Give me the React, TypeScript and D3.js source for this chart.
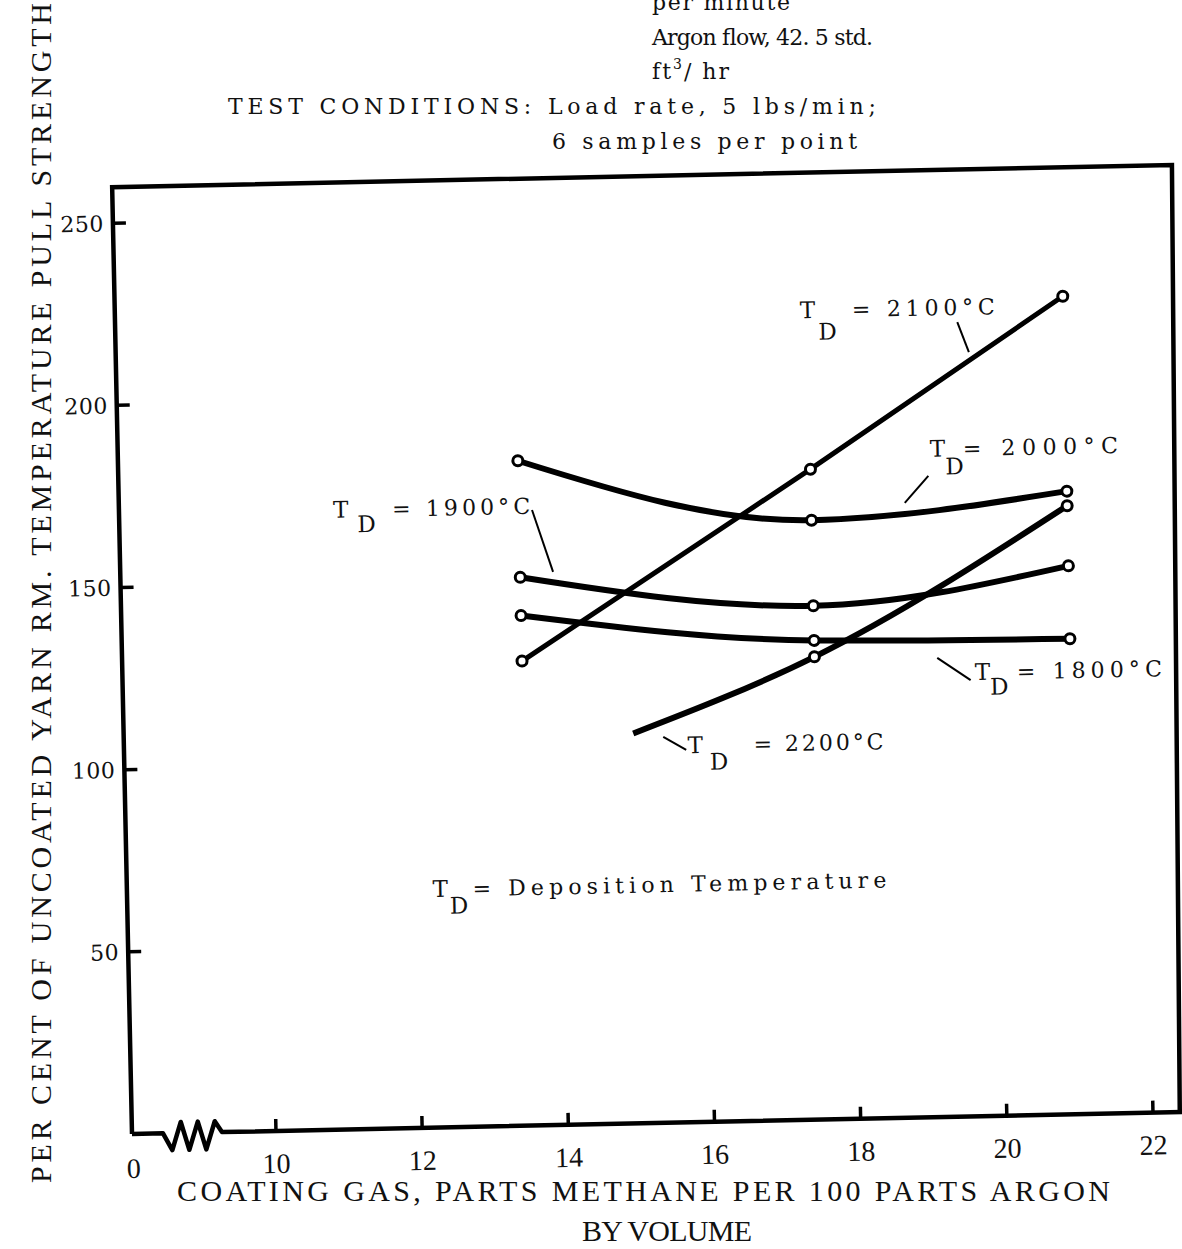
import React from 'react';
import * as d3 from 'd3';

const W = 1182;
const H = 1249;

// ---- data ----
const xValues = [13.5, 17.5, 21.0];
const td2100 = [127.5, 178.5, 224.5];
const td2000 = [182.5, 164.5, 171.0];
const td1900 = [150.5, 141.0, 150.5];
const td1800 = [140.0, 131.5, 130.5];
const x2200 = [15.0, 17.5, 21.0];
const td2200 = [107.0, 127.0, 167.0];
const marked2200 = [false, true, true];

const xTicks = [10, 12, 14, 16, 18, 20, 22];
const yTicks = [50, 100, 150, 200, 250];

const topLines = [
  'per minute',
  'Argon flow, 42. 5 std.',
  'TEST CONDITIONS: Load rate, 5 lbs/min;',
  '6 samples per point',
];
const yTitle = 'PER CENT OF UNCOATED YARN RM. TEMPERATURE PULL STRENGTH';
const xTitle1 = 'COATING GAS, PARTS METHANE PER 100 PARTS ARGON';
const xTitle2 = 'BY VOLUME';

// curve labels: anchor in data units (T baseline-left)
const curveLabels = [
  { name: '= 2100°C', ax: 17.4, ay: 220.0, dOff: [18, 22], eqOff: 52, len: 143, lead: [[19.55, 218.0], [19.7, 209.7]] },
  { name: '= 2000°C', ax: 19.14, ay: 181.2, dOff: [15, 18], eqOff: 33, len: 155, lead: [[19.11, 176.0], [18.78, 168.7]] },
  { name: '= 1900°C', ax: 10.96, ay: 167.9, dOff: [24, 15], eqOff: 59, len: 138, lead: [[13.68, 168.9], [13.95, 151.8]] },
  { name: '= 1800°C', ax: 19.69, ay: 119.7, dOff: [15, 15], eqOff: 42, len: 145, lead: [[19.18, 126.0], [19.63, 119.7]] },
  { name: '= 2200°C', ax: 15.74, ay: 101.3, dOff: [22, 17], eqOff: 66, len: 130, lead: [[15.41, 105.9], [15.72, 102.2]] },
  { name: '= Deposition Temperature', ax: 12.21, ay: 63.3, dOff: [17, 17], eqOff: 40, len: 414, lead: null },
];

// axis-break zigzag shape (u offset, vertical offset) along the x axis
const breakShape = [[31, 0], [40, 17], [49, -11], [57, 17], [66, -11], [74, 17], [83, -11], [90, 0]];

export default function App() {
  const x = d3.scaleLinear().domain([10, 22]).range([144, 1021.2]);
  const y = d3.scaleLinear().domain([0, 250]).range([0, -911]);
  const frameW = 1060;
  const frameH = 947;

  const smooth = d3.line<[number, number]>().x(d => x(d[0])).y(d => y(d[1])).curve(d3.curveMonotoneX);
  const straight = d3.line<[number, number]>().x(d => x(d[0])).y(d => y(d[1]));

  const series = [
    { vals: td2100, xs: xValues, gen: straight, marks: [true, true, true], sw: 5 },
    { vals: td2000, xs: xValues, gen: smooth, marks: [true, true, true], sw: 6 },
    { vals: td1900, xs: xValues, gen: smooth, marks: [true, true, true], sw: 6 },
    { vals: td1800, xs: xValues, gen: smooth, marks: [true, true, true], sw: 6 },
    { vals: td2200, xs: x2200, gen: smooth, marks: marked2200, sw: 6 },
  ];

  const zig = 'M0,0 ' + breakShape.map(p => `L${p[0]},${p[1]}`).join(' ') + ` L${frameW},0`;
  const serif = "'DejaVu Serif', serif";
  const times = "'Liberation Serif', serif";

  return (
    <svg width={W} height={H} viewBox={`0 0 ${W} ${H}`}
      style={{ position: 'absolute', left: 0, top: 0, background: '#fff' }}>
      <rect x={0} y={0} width={W} height={H} fill="#fff" />
      {/* header text */}
      <g fontFamily={serif} fontSize={22} fill="#111">
        <text x={652} y={10} textLength={138} lengthAdjust="spacing">{topLines[0]}</text>
        <text x={652} y={45} textLength={221} lengthAdjust="spacing">{topLines[1]}</text>
        <text x={652} y={79} letterSpacing={2}>ft<tspan fontSize={14} dy={-10}>3</tspan><tspan dy={10}>/ hr</tspan></text>
        <text x={228} y={114} textLength={648} lengthAdjust="spacing">{topLines[2]}</text>
        <text x={552} y={149} textLength={305} lengthAdjust="spacing">{topLines[3]}</text>
      </g>
      {/* y title */}
      <text transform="translate(51,593) rotate(-90)" textAnchor="middle" fontFamily={times} fontSize={30}
        fill="#111" textLength={1180} lengthAdjust="spacing">{yTitle}</text>
      {/* x title */}
      <text x={177} y={1201} fontFamily={times} fontSize={30} fill="#111" textLength={933} lengthAdjust="spacing">{xTitle1}</text>
      <text x={582} y={1241} fontFamily={times} fontSize={30} fill="#111" textLength={170} lengthAdjust="spacing">{xTitle2}</text>

      <g transform="translate(132,1134) rotate(-1.2)">
        {/* frame */}
        <path d={`M0,0 V${-frameH} H${frameW} L${frameW - 12},0`} fill="none" stroke="#000" strokeWidth={4.5} strokeLinejoin="miter" />
        <path d={zig} fill="none" stroke="#000" strokeWidth={4.5} strokeLinejoin="round" />
        {/* ticks */}
        {yTicks.map(t => (
          <g key={'y' + t}>
            <line x1={0} x2={13} y1={y(t)} y2={y(t)} stroke="#000" strokeWidth={3.5} />
            <text x={-9} y={y(t) + 8} textAnchor="end" fontFamily={serif} fontSize={22} letterSpacing={0.5} fill="#111">{t}</text>
          </g>
        ))}
        {xTicks.map(t => (
          <g key={'x' + t}>
            <line x1={x(t)} x2={x(t)} y1={0} y2={-12} stroke="#000" strokeWidth={3.5} />
            <text x={x(t)} y={42} textAnchor="middle" fontFamily={times} fontSize={28} fill="#111">{t}</text>
          </g>
        ))}
        <text x={1} y={44} textAnchor="middle" fontFamily={times} fontSize={28} fill="#111">0</text>

        {/* series */}
        {series.map((s, i) => {
          const pts = s.xs.map((xv, j) => [xv, s.vals[j]] as [number, number]);
          return (
            <g key={'s' + i}>
              <path d={s.gen(pts) || ''} fill="none" stroke="#000" strokeWidth={s.sw} strokeLinecap="butt" />
              {pts.map((p, j) => s.marks[j] ? (
                <circle key={j} cx={x(p[0])} cy={y(p[1])} r={5} fill="#fff" stroke="#000" strokeWidth={3} />
              ) : null)}
            </g>
          );
        })}

        {/* labels */}
        {curveLabels.map((l, i) => {
          const ax = x(l.ax);
          const ay = y(l.ay);
          return (
            <g key={'l' + i} fill="#111" fontFamily={serif}>
              {l.lead && (
                <line x1={x(l.lead[0][0])} y1={y(l.lead[0][1])} x2={x(l.lead[1][0])} y2={y(l.lead[1][1])}
                  stroke="#000" strokeWidth={2} />
              )}
              <text x={ax} y={ay} fontSize={23}>T</text>
              <text x={ax + l.dOff[0]} y={ay + l.dOff[1]} fontSize={23}>D</text>
              <text x={ax + l.eqOff} y={ay} fontSize={22} textLength={l.len} lengthAdjust="spacing">{l.name}</text>
            </g>
          );
        })}
      </g>
    </svg>
  );
}
